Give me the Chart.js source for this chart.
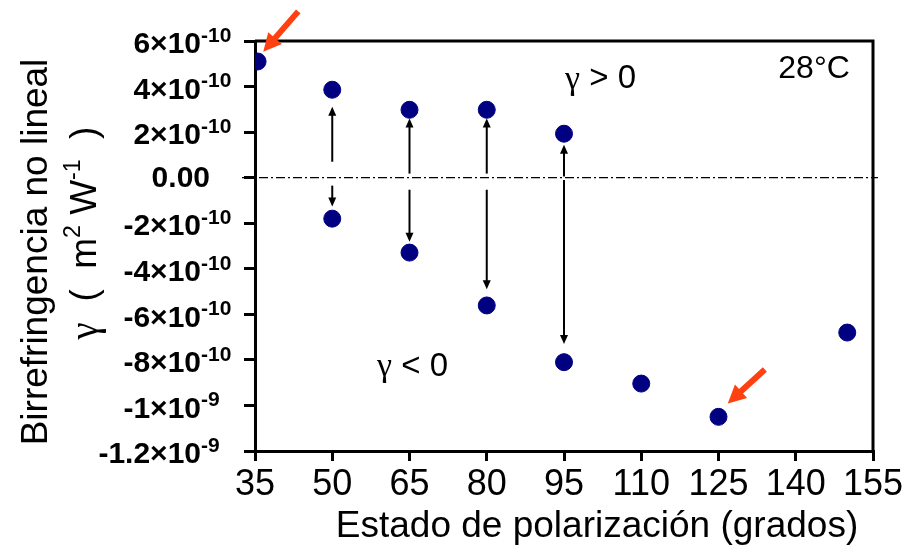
<!DOCTYPE html>
<html>
<head>
<meta charset="utf-8">
<script src="https://cdn.jsdelivr.net/npm/chart.js@4.4.1/dist/chart.umd.min.js"></script>
<style>
  html, body { margin: 0; padding: 0; background: #fff; }
  #wrap { width: 909px; height: 548px; }
</style>
</head>
<body>
<div id="wrap"><canvas id="chart"></canvas></div>
<script>
// Data (y in units of 1e-10 m^2/W)
const xVals = [35.5, 50, 50, 65, 65, 80, 80, 95, 95, 110, 125, 150];
const yVals = [5.1, 3.86, -1.8, 2.98, -3.29, 2.98, -5.61, 1.93, -8.1, -9.04, -10.5, -6.8];

const xTicks = [35, 50, 65, 80, 95, 110, 125, 140, 155];
const yTicks = [6, 4, 2, 0, -2, -4, -6, -8, -10, -12];
const yTickBase = ["6×10", "4×10", "2×10", "0.00", "-2×10", "-4×10", "-6×10", "-8×10", "-1×10", "-1.2×10"];
const yTickExp = ["-10", "-10", "-10", "", "-10", "-10", "-10", "-10", "-9", "-9"];

// black arrows between the positive and negative values
const arrowX = [50, 50, 65, 65, 80, 80, 95, 95];
const arrowFrom = [0.7, -0.35, 0.18, -0.53, 0.18, -0.53, 0.05, -0.1];
const arrowTo = [3.11, -1.27, 2.6, -2.81, 2.6, -4.9, 1.45, -7.3];

// orange pointer arrows [x0, y0, x1, y1]
const pointers = [
  [43.4, 7.3, 36.6, 5.53],
  [134, -8.42, 126.8, -9.91]
];

const E = 1e-10;

function arrowHead(ctx, x, y, angle, len, wid) {
  ctx.save();
  ctx.translate(x, y);
  ctx.rotate(angle);
  ctx.beginPath();
  ctx.moveTo(0, 0);
  ctx.lineTo(-len, -wid / 2);
  ctx.lineTo(-len, wid / 2);
  ctx.closePath();
  ctx.fill();
  ctx.restore();
}

const extras = {
  id: "extras",
  beforeDatasetsDraw(chart) {
    const ctx = chart.ctx;
    const xs = chart.scales.x, ys = chart.scales.y;
    const a = chart.chartArea;
    // zero dash-dot line
    ctx.save();
    ctx.strokeStyle = "#000";
    ctx.lineWidth = 1.2;
    ctx.setLineDash([9, 3, 2, 3]);
    ctx.beginPath();
    const y0 = ys.getPixelForValue(0);
    ctx.moveTo(a.left - 13, y0);
    ctx.lineTo(a.right + 5, y0);
    ctx.stroke();
    ctx.restore();

    // black arrows
    ctx.save();
    ctx.strokeStyle = "#000";
    ctx.fillStyle = "#000";
    ctx.lineWidth = 2;
    arrowX.forEach((xv, i) => {
      const px = xs.getPixelForValue(xv);
      const p0 = ys.getPixelForValue(arrowFrom[i] * E);
      const p1 = ys.getPixelForValue(arrowTo[i] * E);
      const dir = p1 < p0 ? -1 : 1;
      ctx.beginPath();
      ctx.moveTo(px, p0);
      ctx.lineTo(px, p1 - dir * 6);
      ctx.stroke();
      arrowHead(ctx, px, p1, dir < 0 ? -Math.PI / 2 : Math.PI / 2, 9, 8);
    });
    ctx.restore();
  },
  afterDraw(chart) {
    const ctx = chart.ctx;
    const xs = chart.scales.x, ys = chart.scales.y;
    const a = chart.chartArea;

    // top and right frame
    ctx.save();
    ctx.strokeStyle = "#000";
    ctx.lineWidth = 3;
    ctx.beginPath();
    ctx.moveTo(a.left, a.top);
    ctx.lineTo(a.right, a.top);
    ctx.lineTo(a.right, a.bottom);
    ctx.stroke();
    ctx.restore();

    // y tick labels with exponents
    ctx.save();
    ctx.fillStyle = "#000";
    ctx.textBaseline = "middle";
    yTicks.forEach((v, i) => {
      const py = ys.getPixelForValue(v * E);
      ctx.font = "bold 30px 'Liberation Sans', Arial, sans-serif";
      ctx.textAlign = "right";
      if (yTickExp[i] === "") {
        ctx.fillText(yTickBase[i], a.left - 45, py + 1);
      } else {
        ctx.fillText(yTickBase[i], a.left - 54, py + 4);
        ctx.font = "bold 21px 'Liberation Sans', Arial, sans-serif";
        ctx.textAlign = "left";
        ctx.fillText(yTickExp[i], a.left - 54, py - 5);
      }
    });
    ctx.restore();

    // x axis title
    ctx.save();
    ctx.fillStyle = "#000";
    ctx.textBaseline = "middle";
    ctx.textAlign = "center";
    ctx.font = "37px 'Liberation Sans', Arial, sans-serif";
    ctx.fillText("Estado de polarización (grados)", 597, 527);
    ctx.restore();

    // y axis title (two lines, rotated)
    ctx.save();
    ctx.fillStyle = "#000";
    ctx.textBaseline = "middle";
    ctx.translate(37, 252);
    ctx.rotate(-Math.PI / 2);
    ctx.textAlign = "center";
    ctx.font = "37px 'Liberation Sans', Arial, sans-serif";
    ctx.fillText("Birrefringencia no lineal", 0, 0);
    ctx.restore();

    ctx.save();
    ctx.fillStyle = "#000";
    ctx.textBaseline = "middle";
    ctx.translate(86, 233);
    ctx.rotate(-Math.PI / 2);
    ctx.textAlign = "left";
    const sans = "37px 'Liberation Sans', Arial, sans-serif";
    const sup = "23px 'Liberation Sans', Arial, sans-serif";
    const serif = "39px 'Liberation Serif', 'Times New Roman', serif";
    const parts = [
      [serif, "γ", 1], [sans, "  (  m", 0], [sup, "2", -12],
      [sans, " W", 0], [sup, "-1", -12], [sans, "  )", 0]
    ];
    let total = 0;
    parts.forEach(p => { ctx.font = p[0]; total += ctx.measureText(p[1]).width; });
    let cx = -total / 2;
    parts.forEach(p => {
      ctx.font = p[0];
      ctx.fillText(p[1], cx, p[2]);
      cx += ctx.measureText(p[1]).width;
    });
    ctx.restore();

    // annotation texts
    ctx.save();
    ctx.fillStyle = "#000";
    ctx.textBaseline = "middle";
    const drawGamma = (xv, yv, rest) => {
      let px = xs.getPixelForValue(xv);
      const py = ys.getPixelForValue(yv * E);
      ctx.textAlign = "left";
      ctx.font = "34px 'Liberation Serif', 'Times New Roman', serif";
      ctx.fillText("γ", px, py + 1);
      px += ctx.measureText("γ").width;
      ctx.font = "33px 'Liberation Sans', Arial, sans-serif";
      ctx.fillText(rest, px, py);
    };
    drawGamma(95.2, 4.34, " > 0");
    drawGamma(58.7, -8.29, " < 0");
    ctx.font = "32px 'Liberation Sans', Arial, sans-serif";
    ctx.textAlign = "right";
    ctx.fillText("28°C", xs.getPixelForValue(150.5), ys.getPixelForValue(4.78 * E));
    ctx.restore();

    // orange pointers
    ctx.save();
    ctx.strokeStyle = "#ff4010";
    ctx.fillStyle = "#ff4010";
    ctx.lineWidth = 6;
    pointers.forEach(p => {
      const x0 = xs.getPixelForValue(p[0]), y0 = ys.getPixelForValue(p[1] * E);
      const x1 = xs.getPixelForValue(p[2]), y1 = ys.getPixelForValue(p[3] * E);
      const ang = Math.atan2(y1 - y0, x1 - x0);
      ctx.beginPath();
      ctx.moveTo(x0, y0);
      ctx.lineTo(x1 - Math.cos(ang) * 12, y1 - Math.sin(ang) * 12);
      ctx.stroke();
      arrowHead(ctx, x1, y1, ang, 18, 18);
    });
    ctx.restore();
  }
};

const ctx = document.getElementById("chart").getContext("2d");
new Chart(ctx, {
  type: "scatter",
  data: {
    datasets: [{
      data: xVals.map((x, i) => ({ x: x, y: yVals[i] * E })),
      backgroundColor: "#000080",
      borderColor: "#000080",
      pointRadius: 8.5,
      pointHoverRadius: 8.5
    }]
  },
  options: {
    responsive: true,
    maintainAspectRatio: false,
    animation: false,
    layout: { padding: { top: 41, right: 36, left: 0, bottom: 0 } },
    plugins: { legend: { display: false }, tooltip: { enabled: false } },
    scales: {
      x: {
        type: "linear",
        min: 35,
        max: 155,
        afterBuildTicks: (s) => { s.ticks = xTicks.map(v => ({ value: v })); },
        afterFit: (s) => { s.height = 97; },
        border: { display: true, color: "#000", width: 3 },
        grid: { display: true, drawOnChartArea: false, drawTicks: true, tickLength: 10, color: "#000", lineWidth: 3 },
        ticks: {
          color: "#000",
          padding: 2,
          maxRotation: 0,
          autoSkip: false,
          font: { family: "'Liberation Sans', Arial, sans-serif", size: 36 }
        },
        title: { display: false }
      },
      y: {
        type: "linear",
        min: -12 * E,
        max: 6 * E,
        afterBuildTicks: (s) => { s.ticks = yTicks.map(v => ({ value: v * E })); },
        afterFit: (s) => { s.width = 255; },
        border: { display: true, color: "#000", width: 3 },
        grid: { display: true, drawOnChartArea: false, drawTicks: true, tickLength: 11, color: "#000", lineWidth: 3 },
        ticks: { display: false }
      }
    }
  },
  plugins: [extras]
});
</script>
</body>
</html>
